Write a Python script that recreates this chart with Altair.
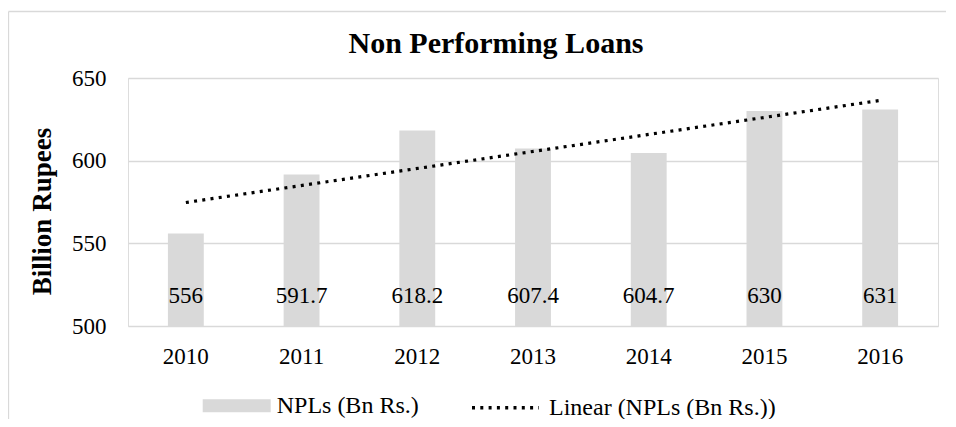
import altair as alt
import pandas as pd

# ---- data ----
years = [2010, 2011, 2012, 2013, 2014, 2015, 2016]
npls = [556, 591.7, 618.2, 607.4, 604.7, 630, 631]
y_ticks = [500, 550, 600, 650]
bar_series = "NPLs (Bn Rs.)"
trend_series = "Linear (NPLs (Bn Rs.))"
chart_title = "Non Performing Loans"
y_title = "Billion Rupees"

df = pd.DataFrame({"year": years, "value": npls, "bar_series": bar_series})
one = pd.DataFrame({"k": [0]})

W, H = 810, 248
FONT = "Liberation Serif, Times New Roman, serif"
GRAY = "#d9d9d9"

x_enc = alt.X(
    "year:O",
    scale=alt.Scale(paddingInner=0.69, paddingOuter=0.345),
    axis=alt.Axis(title=None, labelAngle=0, domain=False, ticks=False,
                  labelPadding=19, labelFontSize=23, labelFont=FONT,
                  labelColor="black", grid=False),
)
y_enc = alt.Y(
    "value:Q",
    scale=alt.Scale(domain=[500, 650], zero=False, nice=False),
    axis=alt.Axis(values=y_ticks, title=y_title, domain=False, ticks=False,
                  grid=True, gridColor=GRAY, gridWidth=1.3,
                  labelFont=FONT, labelFontSize=23, labelColor="black",
                  labelPadding=22,
                  titleFont=FONT, titleFontSize=27, titleFontWeight="bold",
                  titleColor="black", titleAngle=270, titleBaseline="middle",
                  titleAlign="center", titleX=-86, titleY=133),
)

frame_left = alt.Chart(one).mark_rule(color=GRAY, strokeWidth=1.3).encode(
    x=alt.value(-119.5), y=alt.value(-66.5), y2=alt.value(H + 100)
)
frame_top = alt.Chart(one).mark_rule(color=GRAY, strokeWidth=1.3).encode(
    x=alt.value(-119.5), x2=alt.value(W + 40), y=alt.value(-66.5)
)

bars = alt.Chart(df).mark_bar(clip=True).encode(
    x=x_enc,
    y=y_enc,
    color=alt.Color(
        "bar_series:N",
        scale=alt.Scale(domain=[bar_series], range=[GRAY]),
        legend=alt.Legend(
            title=None, orient="none", legendX=74.7, legendY=293.7,
            symbolType="M-1,-0.191H1V0.191H-1Z", symbolSize=4624,
            symbolStrokeWidth=0, symbolOpacity=1,
            labelFont=FONT, labelFontSize=24, labelColor="black",
            labelOffset=6, labelLimit=400,
        ),
    ),
)

labels = alt.Chart(df).mark_text(
    font=FONT, fontSize=23, color="black", baseline="middle", dy=-30
).encode(
    x=x_enc,
    y=alt.value(H),
    text=alt.Text("value:Q", format="~f"),
)


def build(round_dots):
    legend_kw = dict(
        title=None, orient="none", legendX=342, legendY=294.2,
        symbolType="stroke", symbolSize=4489,
        symbolStrokeColor="black", symbolStrokeWidth=3.4,
        labelFont=FONT, labelFontSize=24, labelColor="black",
        labelOffset=8, labelLimit=400,
    )
    if round_dots:
        dash = [0.1, 8.3]
        legend_kw["encode"] = {"symbols": {"update": {"strokeCap": {"value": "round"}}}}
        line = alt.Chart(df).mark_line(color="black", strokeWidth=3.4, strokeCap="round")
    else:
        dash = [3, 5.3]
        line = alt.Chart(df).mark_line(color="black", strokeWidth=3.2)
    trend = (
        line.transform_regression("year", "value", method="linear")
        .transform_calculate(trend_series=f"'{trend_series}'")
        .encode(
            x=x_enc,
            y=y_enc,
            strokeDash=alt.StrokeDash(
                "trend_series:N",
                scale=alt.Scale(domain=[trend_series], range=[dash]),
                legend=alt.Legend(**legend_kw),
            ),
        )
    )
    ch = (
        alt.layer(frame_left, frame_top, bars, trend, labels)
        .resolve_legend(color="independent", strokeDash="independent")
        .properties(
            width=W,
            height=H,
            title=alt.Title(chart_title, font=FONT, fontSize=30, fontWeight="bold",
                            color="black", anchor="middle", frame="group", dx=-37,
                            offset=-72, baseline="alphabetic"),
            padding={"left": 120, "top": 70, "right": 8, "bottom": 93},
            autosize=alt.AutoSizeParams(type="none"),
        )
        .configure_view(stroke=None)
        .configure(background="white")
    )
    return ch


try:
    chart = build(True)
    chart.to_dict()
except Exception:
    chart = build(False)

chart.save("out.html", embed_options={"renderer": "svg", "actions": False})
